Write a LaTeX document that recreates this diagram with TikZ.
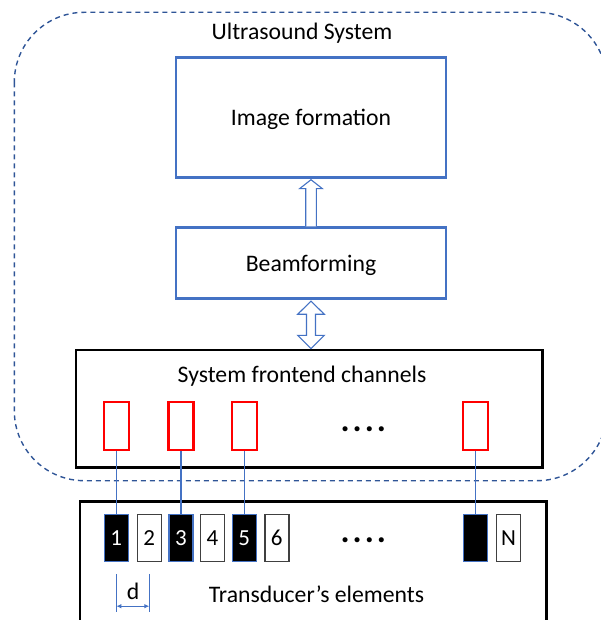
\documentclass[tikz,border=0pt]{standalone}
\usepackage{fontspec}
\setmainfont{Carlito}
\usetikzlibrary{calc,arrows.meta}
\definecolor{oblue}{HTML}{4472C4}
\definecolor{dblue}{HTML}{2F5597}
\begin{document}
\begin{tikzpicture}[x=1pt,y=-1pt,
  lbl/.style={font=\fontsize{23.7}{28}\selectfont, inner sep=0pt},
  bluebox/.style={draw=oblue, line width=2.8pt, fill=white, minimum width=270pt, inner sep=0pt},
  blackbox/.style={draw=black, line width=2.8pt, inner sep=0pt},
  chan/.style={draw=red, line width=2.6pt, minimum width=25pt, minimum height=48pt, inner sep=0pt},
  elbase/.style={line width=1.4pt, minimum width=24pt, minimum height=47pt, inner sep=0pt, font=\fontsize{23}{27}\selectfont},
  elon/.style={elbase, draw=oblue, fill=black, text=white},
  eloff/.style={elbase, draw=black!75, fill=white, text=black},
  wire/.style={draw=oblue, line width=1.1pt},
  blockarr/.style={draw=oblue, line width=1.1pt, fill=white, line join=miter},
  dotsrow/.style={font=\fontsize{34}{38}\selectfont\bfseries, inner sep=0pt}
]
\useasboundingbox (0,0) rectangle (601,620);
\clip (0,0) rectangle (601,620);
% system boundary
\draw[dblue, line width=1.4pt, dash pattern=on 5pt off 4pt, rounded corners=70pt] (14.3,12.3) rectangle (607,480.7);
\node[lbl] (sys) at (302,33) {Ultrasound System};
% processing blocks
\node[bluebox, minimum height=119.6pt] (imgf) at (311,117.5) {};
\node[lbl] (imgflbl) at (311,119.5) {Image formation};
\node[bluebox, minimum height=70.6pt] (beam) at (311,263) {};
\node[lbl] (beamlbl) at (311,265.5) {Beamforming};
% frontend
\node[blackbox, minimum width=466.3pt, minimum height=117.7pt] (front) at (309.2,408.9) {};
\node[lbl] (fronttitle) at (302,376) {System frontend channels};
\node[chan] (c1) at (116.3,426) {};
\node[chan] (c3) at (181,426) {};
\node[chan] (c5) at (244.3,426) {};
\node[chan] (cn) at (475.5,426) {};
\node[dotsrow] (fdots) at (363.3,429.5) {.\kern3pt.\kern3pt.\kern3pt.};
% transducer
\node[blackbox, minimum width=466.7pt, minimum height=139pt] (trans) at (313.35,571.2) {};
\node[elon]  (e1) at (116.3,538) {1};
\node[eloff] (e2) at (149.3,538) {2};
\node[elon]  (e3) at (181,538) {3};
\node[eloff] (e4) at (212.5,538) {4};
\node[elon]  (e5) at (244.3,538) {5};
\node[eloff] (e6) at (276.8,538) {6};
\node[dotsrow] (tdots) at (363.3,540.2) {.\kern3pt.\kern3pt.\kern3pt.};
\node[elon]  (en) at (475.5,538) {};
\node[eloff] (eN) at (508.5,538) {N};
\node[lbl] (translbl) at (316.5,594) {Transducer’s elements};
% wires
\draw[wire] (c1.south) -- (e1.north);
\draw[wire] (c3.south) -- (e3.north);
\draw[wire] (c5.south) -- (e5.north);
\draw[wire] (cn.south) -- (en.north);
% pitch
\coordinate (d1) at ($(e1.south)+(0,11.6)$);
\coordinate (d2) at ($(e2.south)+(0,11.6)$);
\draw[wire] (d1) -- ++(0,38.4);
\draw[wire] (d2) -- ++(0,38.4);
\draw[wire, {Latex[length=5pt,width=4.5pt]}-{Latex[length=5pt,width=4.5pt]}] ($(d1)+(0,32.4)$) -- ($(d2)+(0,32.4)$);
\node[lbl] (dlbl) at (133,591) {d};
% block arrows
\draw[blockarr] ($(beam.north)+(-5.3,0)$) -- ($(beam.north)+(-5.3,-37.7)$) -- ($(beam.north)+(-11.3,-37.7)$)
  -- ($(imgf.south)+(0,1)$) -- ($(beam.north)+(11.3,-37.7)$) -- ($(beam.north)+(5.3,-37.7)$) -- ($(beam.north)+(5.3,0)$);
\coordinate (ta) at ($(beam.south)+(0,1.5)$);
\coordinate (tb) at (beam.south |- front.north);
\draw[blockarr] (ta) -- ($(ta)+(13.3,13)$) -- ($(ta)+(4.5,13)$) -- ($(tb)+(4.5,-13.3)$) -- ($(tb)+(13.3,-13.3)$)
  -- (tb) -- ($(tb)+(-13.3,-13.3)$) -- ($(tb)+(-4.5,-13.3)$) -- ($(ta)+(-4.5,13)$) -- ($(ta)+(-13.3,13)$) -- cycle;
\end{tikzpicture}
\end{document}
